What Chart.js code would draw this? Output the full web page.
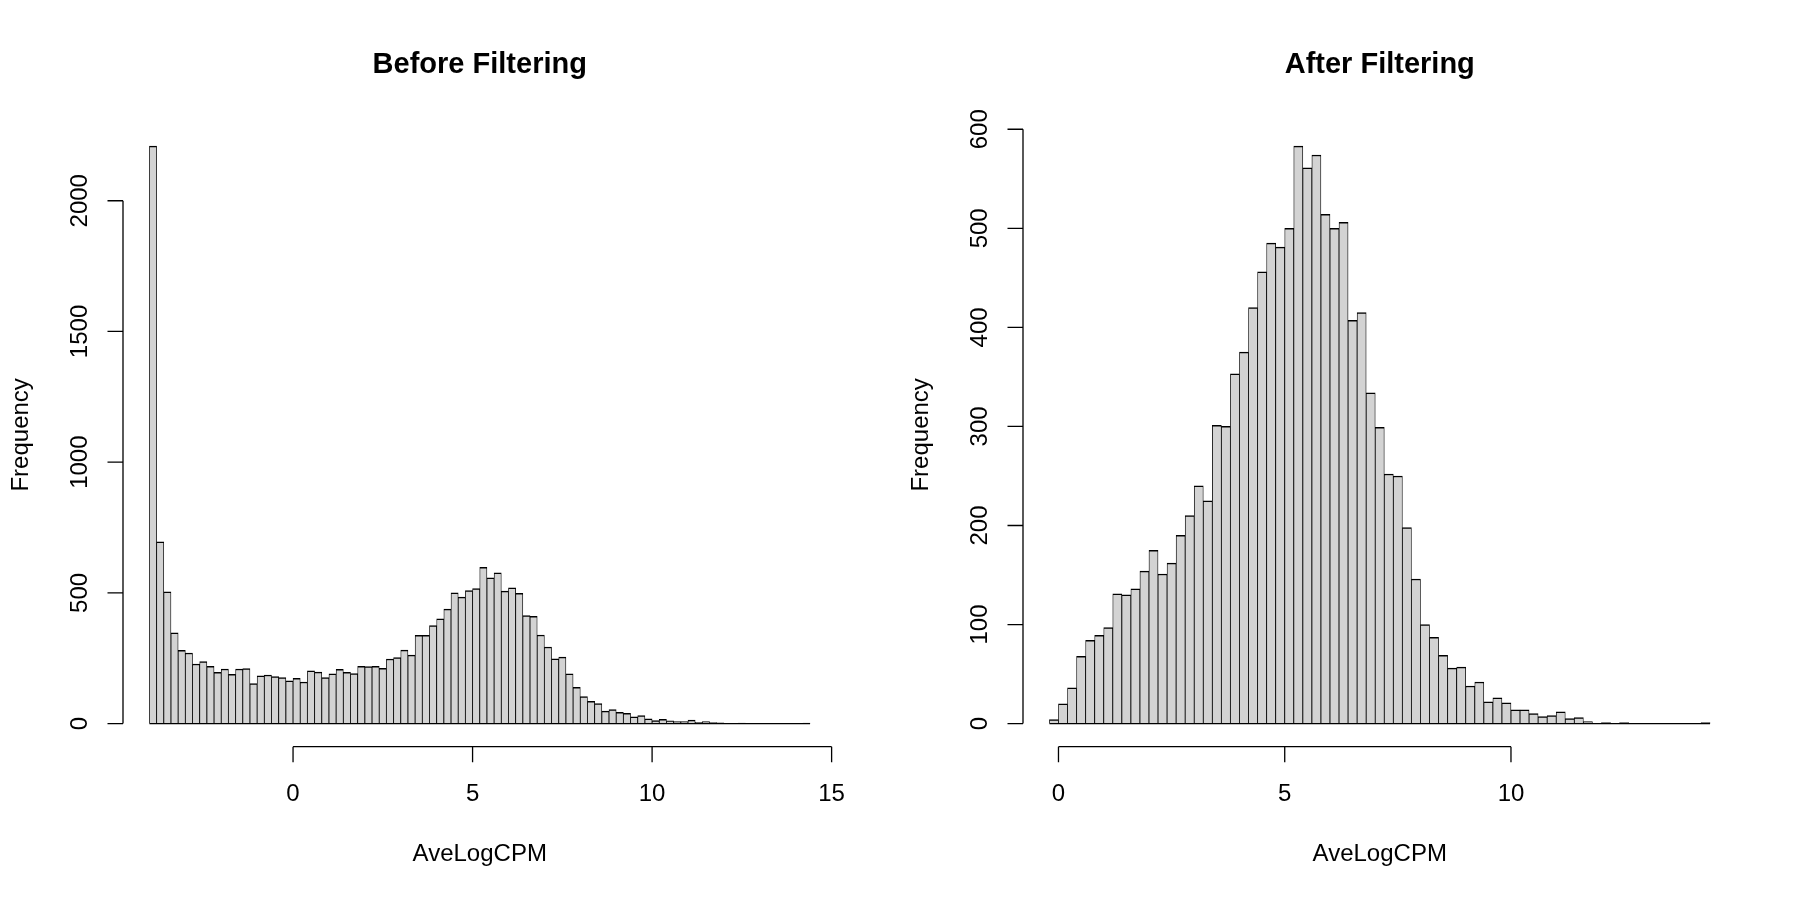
<!DOCTYPE html>
<html>
<head>
<meta charset="utf-8">
<title>AveLogCPM histograms</title>
<script src="https://cdn.jsdelivr.net/npm/chart.js@4/dist/chart.umd.min.js"></script>
<style>
  html, body { margin: 0; padding: 0; background: #fff; }
  #wrap { width: 1800px; height: 900px; display: flex; }
  canvas { display: block; }
</style>
</head>
<body>
<div id="wrap">
  <canvas id="beforeChart" width="900" height="900"></canvas>
  <canvas id="afterChart" width="900" height="900"></canvas>
</div>
<script>
// histogram bins: lower edge of the first bin and bin width (AveLogCPM units)
const binWidth = 0.2;
const beforeStart = -4.0;
const afterStart = -0.2;

// counts
const beforeCounts = [
  2209, 695, 504, 347, 280, 270, 228, 237, 219, 196,
  209, 188, 209, 210, 153, 183, 186, 180, 176, 164,
  173, 159, 202, 197, 176, 190, 208, 196, 191, 219,
  218, 219, 211, 247, 253, 281, 262, 338, 338, 375,
  401, 438, 500, 484, 509, 516, 598, 558, 577, 507,
  519, 498, 413, 410, 339, 293, 248, 254, 190, 139,
  103, 85, 77, 48, 54, 43, 39, 26, 31, 18,
  12, 16, 11, 8, 8, 13, 5, 8, 4, 3,
  1, 1, 2, 1, 1, 0, 1, 1, 0, 1,
  1, 2
];
const afterCounts = [
  4, 20, 36, 68, 84, 89, 97, 131, 130, 136,
  154, 175, 151, 162, 190, 210, 240, 225, 301, 300,
  353, 375, 420, 456, 485, 481, 500, 583, 561, 574,
  514, 500, 506, 407, 415, 334, 299, 252, 250, 198,
  146, 100, 87, 69, 56, 57, 38, 42, 22, 26,
  21, 14, 14, 10, 7, 8, 12, 5, 6, 2,
  0, 1, 0, 1, 0, 0, 0, 0, 0, 0,
  0, 0, 1
];

// axis ticks
const beforeXTicks = [0, 5, 10, 15];
const beforeYTicks = [0, 500, 1000, 1500, 2000];
const afterXTicks = [0, 5, 10];
const afterYTicks = [0, 100, 200, 300, 400, 500, 600];

const FONT = '"Liberation Sans", Arial, Helvetica, sans-serif';

// base-R style axes, titles and the zero line under empty bins
const rStyle = {
    id: 'rStyle',
    afterDatasetsDraw(chart, args, opts) {
        const {ctx, scales: {x, y}} = chart;
        const y0 = y.getPixelForValue(0);
        ctx.save();
        ctx.strokeStyle = '#000';
        ctx.lineWidth = 1.3;
        ctx.beginPath();
        ctx.moveTo(x.getPixelForValue(opts.binLo), y0);
        ctx.lineTo(x.getPixelForValue(opts.binHi), y0);
        ctx.stroke();
        ctx.restore();
    },
    afterDraw(chart, args, opts) {
        const {ctx, chartArea, scales: {x, y}} = chart;
        const tick = 15.5;
        const left = chartArea.left, bottom = chartArea.bottom;
        const midX = (chartArea.left + chartArea.right) / 2;
        const midY = (chartArea.top + chartArea.bottom) / 2;
        ctx.save();
        ctx.strokeStyle = '#000';
        ctx.fillStyle = '#000';
        ctx.lineWidth = 1.3;

        // x axis
        const xt = opts.xTicks;
        ctx.beginPath();
        ctx.moveTo(x.getPixelForValue(xt[0]), bottom);
        ctx.lineTo(x.getPixelForValue(xt[xt.length - 1]), bottom);
        xt.forEach(v => {
            const px = x.getPixelForValue(v);
            ctx.moveTo(px, bottom);
            ctx.lineTo(px, bottom + tick);
        });
        // y axis
        const yt = opts.yTicks;
        ctx.moveTo(left, y.getPixelForValue(yt[0]));
        ctx.lineTo(left, y.getPixelForValue(yt[yt.length - 1]));
        yt.forEach(v => {
            const py = y.getPixelForValue(v);
            ctx.moveTo(left, py);
            ctx.lineTo(left - tick, py);
        });
        ctx.stroke();

        ctx.font = '24px ' + FONT;
        ctx.textAlign = 'center';
        ctx.textBaseline = 'alphabetic';
        xt.forEach(v => ctx.fillText(String(v), x.getPixelForValue(v), bottom + 54));
        ctx.fillText('AveLogCPM', midX, bottom + 114);

        yt.forEach(v => {
            ctx.save();
            ctx.translate(left - 36, y.getPixelForValue(v));
            ctx.rotate(-Math.PI / 2);
            ctx.fillText(String(v), 0, 0);
            ctx.restore();
        });
        ctx.save();
        ctx.translate(left - 95, midY);
        ctx.rotate(-Math.PI / 2);
        ctx.fillText('Frequency', 0, 0);
        ctx.restore();

        ctx.font = 'bold 29px ' + FONT;
        ctx.fillText(opts.title, midX, 72.7);
        ctx.restore();
    }
};

function drawHist(canvasId, title, start, counts, xTicks, yTicks) {
    const binLo = start;
    const binHi = start + counts.length * binWidth;
    const xPad = (binHi - binLo) * 0.04;
    const yMax = Math.max(...counts);
    const ctx = document.getElementById(canvasId).getContext('2d');
    return new Chart(ctx, {
        type: 'bar',
        data: {
            datasets: [{
                data: counts.map((c, i) => ({x: start + (i + 0.5) * binWidth, y: c})),
                backgroundColor: '#D3D3D3',
                borderColor: '#000',
                borderWidth: {top: 1.5, right: 0.8, bottom: 0, left: 0.8},
                borderSkipped: false,
                barPercentage: 1,
                categoryPercentage: 1
            }]
        },
        options: {
            responsive: false,
            animation: false,
            devicePixelRatio: 1,
            events: [],
            layout: {padding: {left: 123, right: 63.5, top: 123, bottom: 153.3}},
            scales: {
                x: {type: 'linear', display: false, offset: false, min: binLo - xPad, max: binHi + xPad},
                y: {display: false, min: -0.04 * yMax, max: 1.04 * yMax}
            },
            plugins: {
                legend: {display: false},
                tooltip: {enabled: false},
                rStyle: {title, binLo, binHi, xTicks, yTicks}
            }
        },
        plugins: [rStyle]
    });
}

drawHist('beforeChart', 'Before Filtering', beforeStart, beforeCounts, beforeXTicks, beforeYTicks);
drawHist('afterChart', 'After Filtering', afterStart, afterCounts, afterXTicks, afterYTicks);
</script>
</body>
</html>
